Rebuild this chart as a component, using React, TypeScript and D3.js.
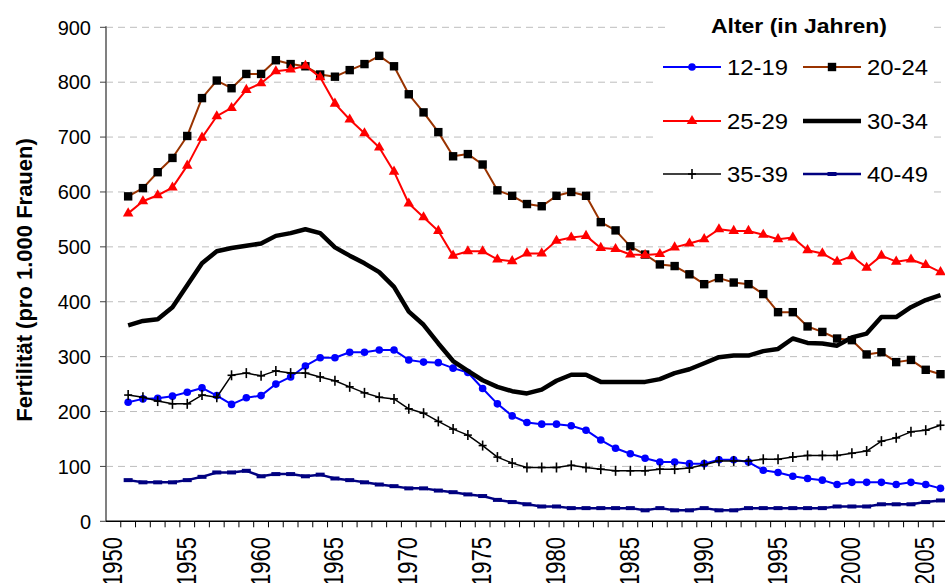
import React from "react";
import * as d3 from "d3";

const years: number[] = d3.range(1951, 2007);
const categories: number[] = d3.range(1950, 2007);
const yTicks: number[] = [0, 100, 200, 300, 400, 500, 600, 700, 800, 900];
const xLabelYears: number[] = [1950, 1955, 1960, 1965, 1970, 1975, 1980, 1985, 1990, 1995, 2000, 2005];

const s1219: number[] = [217,223,224,228,235,243,229,213,225,229, 250,263,283,298,298,308,308,312,312,294, 290,289,279,271,242,214,192,180,177,177, 174,166,148,133,123,115,108,108,105,105, 112,112,108,93,89,82,78,75,67,71, 71,71,67,71,67,60];
const s2024: number[] = [592,607,636,662,702,771,803,789,815,815, 840,833,829,814,810,822,833,848,829,778, 745,709,665,669,650,603,593,578,574,593, 600,593,545,530,501,486,468,465,450,432, 443,435,432,414,381,381,355,345,333,330, 304,308,290,294,276,268];
const s2529: number[] = [561,583,594,608,648,699,738,753,786,798, 820,823,830,809,761,732,707,681,637,579, 554,529,484,492,492,477,474,488,488,511, 517,520,498,496,486,485,487,499,506,514, 532,529,529,522,514,517,494,488,473,483, 462,484,473,477,467,454];
const s3034: number[] = [357,365,368,390,430,470,492,498,502,506, 520,525,532,525,499,484,470,454,427,382, 358,324,292,274,257,245,237,233,240,256, 267,267,254,254,254,254,259,270,277,288, 299,302,302,310,314,333,325,324,320,335, 342,372,372,390,403,412];
const s3539: number[] = [230,226,219,214,214,230,226,266,270,265, 274,270,270,263,256,245,234,226,223,205, 197,182,168,157,138,117,106,98,98,98, 102,98,95,92,92,92,95,95,97,103, 110,110,110,113,113,117,120,120,120,124, 128,146,152,163,166,175];
const s4049: number[] = [75,71,71,71,75,81,89,89,92,82, 86,86,82,85,78,75,71,67,64,60, 60,56,53,49,46,39,35,31,27,27, 24,24,24,24,24,20,24,20,20,24, 20,20,24,24,24,24,24,24,27,27, 27,31,31,31,35,38];

const seriesNames: string[] = ["12-19", "20-24", "25-29", "30-34", "35-39", "40-49"];
const seriesValues: number[][] = [s1219, s2024, s2529, s3034, s3539, s4049];

type Style = { line: string; width: number; marker: string; mcolor: string };
const styles: Style[] = [
  { line: "#0000FF", width: 2, marker: "circle", mcolor: "#0000FF" },
  { line: "#993300", width: 2, marker: "square", mcolor: "#000000" },
  { line: "#FF0000", width: 2, marker: "triangle", mcolor: "#FF0000" },
  { line: "#000000", width: 4.5, marker: "none", mcolor: "#000000" },
  { line: "#000000", width: 1.5, marker: "plus", mcolor: "#000000" },
  { line: "#000080", width: 2.5, marker: "dash", mcolor: "#000080" },
];

const FONT = "'Liberation Sans', Arial, Helvetica, sans-serif";
const W = 945, H = 583;
const L = 106, B = 521.3, T = 27.3;
const BAND = 14.77;

function Marker({ kind, color, x, y }: { kind: string; color: string; x: number; y: number }) {
  if (kind === "circle") return <circle cx={x} cy={y} r={3.8} fill={color} />;
  if (kind === "square") return <rect x={x - 4.2} y={y - 4.2} width={8.4} height={8.4} fill={color} />;
  if (kind === "triangle") {
    const p = d3.symbol().type(d3.symbolTriangle).size(48)();
    return <path d={p || ""} transform={`translate(${x},${y})`} fill={color} />;
  }
  if (kind === "plus")
    return (
      <g stroke={color} strokeWidth={1.6}>
        <line x1={x - 4} x2={x + 4} y1={y} y2={y} />
        <line x1={x} x2={x} y1={y - 5} y2={y + 5} />
      </g>
    );
  if (kind === "dash") return <rect x={x - 4.5} y={y - 2} width={9} height={4} fill={color} />;
  return null;
}

export default function App() {
  const x = d3.scaleBand<number>().domain(categories).range([L, L + BAND * categories.length]).paddingInner(0).paddingOuter(0);
  const y = d3.scaleLinear().domain([0, 900]).range([B, T]);
  const cx = (yr: number) => (x(yr) as number) + x.bandwidth() / 2;
  const line = d3.line<[number, number]>().x((d) => cx(d[0])).y((d) => y(d[1]));

  const legendCols = [663, 803];
  const legendRows = [67, 121, 174];

  return (
    <svg width={W} height={H} style={{ position: "absolute", left: 0, top: 0, background: "#fff" }} fontFamily={FONT}>
      <rect x={0} y={0} width={W} height={H} fill="#fff" />
      {/* gridlines */}
      {yTicks.filter((t) => t > 0).map((t) => (
        <line key={"g" + t} x1={L} x2={W} y1={y(t)} y2={y(t)} stroke="#BDBDBD" strokeWidth={1} strokeDasharray="7,5" />
      ))}
      {/* legend background */}
      <rect x={667} y={8} width={266} height={30} fill="#fff" />
      <rect x={655} y={38} width={278} height={162} fill="#fff" />

      {/* y axis */}
      <line x1={L} x2={L} y1={T - 1} y2={B} stroke="#808080" strokeWidth={2} />
      {yTicks.map((t) => (
        <g key={"yt" + t}>
          <line x1={L - 6} x2={L} y1={y(t)} y2={y(t)} stroke="#404040" strokeWidth={1} />
          <text x={91} y={y(t) + 7.3} textAnchor="end" fontSize={20} fill="#000">{t}</text>
        </g>
      ))}
      {/* x axis */}
      <line x1={L} x2={W} y1={B} y2={B} stroke="#000" strokeWidth={1.5} />
      {categories.map((c) => (
        <line key={"xt" + c} x1={(x(c) as number) + BAND} x2={(x(c) as number) + BAND} y1={B} y2={B + 6} stroke="#000" strokeWidth={1} />
      ))}
      {xLabelYears.map((yr) => (
        <text key={"xl" + yr} transform={`translate(${cx(yr) + 8.5},537) rotate(-90) scale(1,1.22)`} textAnchor="end" fontSize={22} fill="#000">
          {yr}
        </text>
      ))}
      {/* y title */}
      <text transform={`translate(32,280) rotate(-90)`} textAnchor="middle" fontSize={22} fontWeight="bold" fill="#000">
        Fertilität (pro 1.000 Frauen)
      </text>

      {/* series */}
      {seriesValues.map((vals, i) => {
        const pts: [number, number][] = years.map((yr, j) => [yr, vals[j]]);
        const st = styles[i];
        return (
          <g key={"s" + i}>
            <path d={line(pts) || ""} fill="none" stroke={st.line} strokeWidth={st.width} strokeLinejoin="round" />
            {pts.map((p, j) => (
              <Marker key={j} kind={st.marker} color={st.mcolor} x={cx(p[0])} y={y(p[1])} />
            ))}
          </g>
        );
      })}

      {/* legend */}
      <text x={799} y={33} textAnchor="middle" fontSize={20} fontWeight="bold" textLength={176} lengthAdjust="spacingAndGlyphs">
        Alter (in Jahren)
      </text>
      {seriesNames.map((n, i) => {
        const col = i % 2, row = Math.floor(i / 2);
        const lx = legendCols[col], ly = legendRows[row];
        const st = styles[i];
        return (
          <g key={"lg" + i}>
            <line x1={lx} x2={lx + 58} y1={ly} y2={ly} stroke={st.line} strokeWidth={st.width} />
            <Marker kind={st.marker} color={st.mcolor} x={lx + 29} y={ly} />
            <text x={lx + 64} y={ly + 8} fontSize={22} textLength={61} lengthAdjust="spacingAndGlyphs">{n}</text>
          </g>
        );
      })}
    </svg>
  );
}
